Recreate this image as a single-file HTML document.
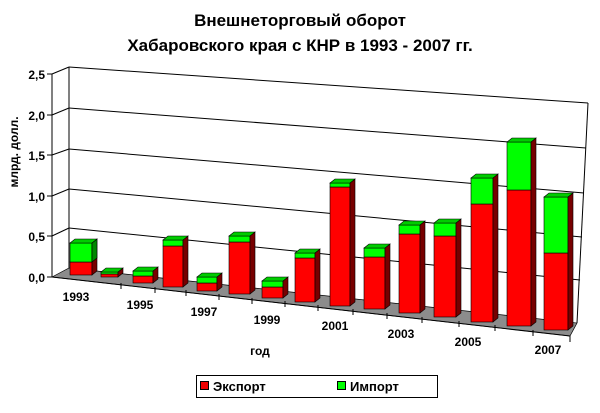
<!DOCTYPE html>
<html><head><meta charset="utf-8"><style>
html,body{margin:0;padding:0;background:#fff}
svg{display:block}
text{font-family:"Liberation Sans",Arial,sans-serif;font-weight:bold}
</style></head><body>
<svg width="600" height="413" viewBox="0 0 600 413" xmlns="http://www.w3.org/2000/svg">
<text x="300" y="26" font-size="17" text-anchor="middle">Внешнеторговый оборот</text>
<text x="300" y="51" font-size="17" text-anchor="middle">Хабаровского края с КНР в 1993 - 2007 гг.</text>
<!-- walls -->
<g stroke="#000" stroke-width="1" fill="none">
<line x1="69" y1="67" x2="588" y2="103"/>
<line x1="69" y1="108" x2="586" y2="148"/>
<line x1="69" y1="149" x2="584" y2="193"/>
<line x1="69" y1="189" x2="582" y2="237"/>
<line x1="69" y1="228" x2="580" y2="280"/>
<line x1="69" y1="67" x2="69" y2="268"/>
<line x1="588" y1="103" x2="577" y2="323"/>
<line x1="52" y1="74" x2="69" y2="67"/>
<line x1="52" y1="115" x2="69" y2="108"/>
<line x1="52" y1="155" x2="69" y2="149"/>
<line x1="52" y1="196" x2="69" y2="189"/>
<line x1="52" y1="236" x2="69" y2="228"/>
<line x1="52" y1="74" x2="52" y2="277"/>
</g>
<polygon points="52,277 69,268 577,323 570,336" fill="#8c8c8c" stroke="#000" stroke-width="0.7"/>
<g stroke="#000" stroke-width="1">
<line x1="47" y1="74" x2="52" y2="74"/><line x1="47" y1="115" x2="52" y2="115"/>
<line x1="47" y1="155" x2="52" y2="155"/><line x1="47" y1="196" x2="52" y2="196"/>
<line x1="47" y1="236" x2="52" y2="236"/><line x1="47" y1="277" x2="52" y2="277"/>
<line x1="52" y1="277" x2="570" y2="336"/>
<line x1="121" y1="283" x2="121" y2="289"/><line x1="155" y1="287" x2="155" y2="293"/>
<line x1="186" y1="290" x2="186" y2="296"/><line x1="219" y1="294" x2="219" y2="300"/>
<line x1="252" y1="298" x2="252" y2="304"/><line x1="285" y1="301" x2="285" y2="307"/>
<line x1="318" y1="305" x2="318" y2="311"/><line x1="353" y1="309" x2="353" y2="315"/>
<line x1="387" y1="313" x2="387" y2="319"/><line x1="422" y1="317" x2="422" y2="323"/>
<line x1="459" y1="321" x2="459" y2="327"/><line x1="495" y1="325" x2="495" y2="331"/>
<line x1="533" y1="330" x2="533" y2="336"/><line x1="570" y1="336" x2="570" y2="342"/>
</g>
<g font-size="12" text-anchor="end">
<text x="45" y="79">2,5</text><text x="45" y="120">2,0</text><text x="45" y="160">1,5</text>
<text x="45" y="201">1,0</text><text x="45" y="241">0,5</text><text x="45" y="282">0,0</text>
</g>
<g font-size="12" text-anchor="middle">
<text x="76" y="301">1993</text><text x="140" y="309">1995</text><text x="204" y="316">1997</text>
<text x="267" y="324">1999</text><text x="335" y="330">2001</text><text x="401" y="338">2003</text>
<text x="468" y="346">2005</text><text x="548" y="354">2007</text>
<text x="260" y="355">год</text>
</g>
<text transform="translate(18,152) rotate(-90)" font-size="12" text-anchor="middle">млрд. долл.</text>
<!-- bars -->
<g stroke="#000" stroke-width="0.6">
<!-- template: x,w,b,r,g -->
<g><rect x="70" y="262" width="22" height="13" fill="#f00"/><rect x="70" y="243" width="22" height="19" fill="#0f0"/><polygon points="92,243 97,239 97,271 92,275" fill="#700"/><polygon points="92,243 97,239 97,258 92,262" fill="#080"/><polygon points="70,243 75,239 97,239 92,243" fill="#0c0"/></g>
<g><rect x="101" y="274" width="17" height="3" fill="#f00"/><rect x="101" y="272" width="17" height="2" fill="#0f0"/><polygon points="118,272 123,268 123,273 118,277" fill="#700"/><polygon points="101,272 106,268 123,268 118,272" fill="#0c0"/></g>
<g><rect x="133" y="276" width="20" height="7" fill="#f00"/><rect x="133" y="271" width="20" height="5" fill="#0f0"/><polygon points="153,271 158,267 158,279 153,283" fill="#700"/><polygon points="133,271 138,267 158,267 153,271" fill="#0c0"/></g>
<g><rect x="163" y="246" width="20" height="41" fill="#f00"/><rect x="163" y="240" width="20" height="6" fill="#0f0"/><polygon points="183,240 188,236 188,283 183,287" fill="#700"/><polygon points="163,240 168,236 188,236 183,240" fill="#0c0"/></g>
<g><rect x="197" y="283" width="20" height="8" fill="#f00"/><rect x="197" y="277" width="20" height="6" fill="#0f0"/><polygon points="217,277 222,273 222,287 217,291" fill="#700"/><polygon points="197,277 202,273 222,273 217,277" fill="#0c0"/></g>
<g><rect x="229" y="242" width="21" height="52" fill="#f00"/><rect x="229" y="236" width="21" height="6" fill="#0f0"/><polygon points="250,236 255,232 255,290 250,294" fill="#700"/><polygon points="229,236 234,232 255,232 250,236" fill="#0c0"/></g>
<g><rect x="262" y="287" width="21" height="11" fill="#f00"/><rect x="262" y="281" width="21" height="6" fill="#0f0"/><polygon points="283,281 288,277 288,294 283,298" fill="#700"/><polygon points="262,281 267,277 288,277 283,281" fill="#0c0"/></g>
<g><rect x="295" y="258" width="20" height="44" fill="#f00"/><rect x="295" y="253" width="20" height="5" fill="#0f0"/><polygon points="315,253 320,249 320,298 315,302" fill="#700"/><polygon points="295,253 300,249 320,249 315,253" fill="#0c0"/></g>
<g><rect x="330" y="187" width="20" height="119" fill="#f00"/><rect x="330" y="183" width="20" height="4" fill="#0f0"/><polygon points="350,183 355,179 355,302 350,306" fill="#700"/><polygon points="330,183 335,179 355,179 350,183" fill="#0c0"/></g>
<g><rect x="364" y="257" width="21" height="52" fill="#f00"/><rect x="364" y="248" width="21" height="9" fill="#0f0"/><polygon points="385,248 390,244 390,305 385,309" fill="#700"/><polygon points="364,248 369,244 390,244 385,248" fill="#0c0"/></g>
<g><rect x="399" y="234" width="21" height="79" fill="#f00"/><rect x="399" y="225" width="21" height="9" fill="#0f0"/><polygon points="420,225 425,221 425,309 420,313" fill="#700"/><polygon points="399,225 404,221 425,221 420,225" fill="#0c0"/></g>
<g><rect x="434" y="236" width="22" height="81" fill="#f00"/><rect x="434" y="223" width="22" height="13" fill="#0f0"/><polygon points="456,223 461,219 461,313 456,317" fill="#700"/><polygon points="434,223 439,219 461,219 456,223" fill="#0c0"/></g>
<g><rect x="471" y="204" width="22" height="118" fill="#f00"/><rect x="471" y="178" width="22" height="26" fill="#0f0"/><polygon points="493,178 498,174 498,318 493,322" fill="#700"/><polygon points="471,178 476,174 498,174 493,178" fill="#0c0"/></g>
<g><rect x="507" y="190" width="24" height="136" fill="#f00"/><rect x="507" y="142" width="24" height="48" fill="#0f0"/><polygon points="531,142 536,138 536,322 531,326" fill="#700"/><polygon points="507,142 512,138 536,138 531,142" fill="#0c0"/></g>
<g><rect x="544" y="253" width="24" height="77" fill="#f00"/><rect x="544" y="197" width="24" height="56" fill="#0f0"/><polygon points="568,197 573,193 573,326 568,330" fill="#700"/><polygon points="544,197 549,193 573,193 568,197" fill="#0c0"/></g>
</g>
<!-- legend -->
<rect x="196.5" y="375.5" width="241" height="22" fill="#fff" stroke="#000" stroke-width="1"/>
<rect x="200.5" y="381.5" width="8" height="8" fill="#e00" stroke="#000" stroke-width="1"/>
<text x="213" y="391" font-size="13">Экспорт</text>
<rect x="337.5" y="381.5" width="8" height="8" fill="#0f0" stroke="#000" stroke-width="1"/>
<text x="350" y="391" font-size="13">Импорт</text>
</svg>
</body></html>
